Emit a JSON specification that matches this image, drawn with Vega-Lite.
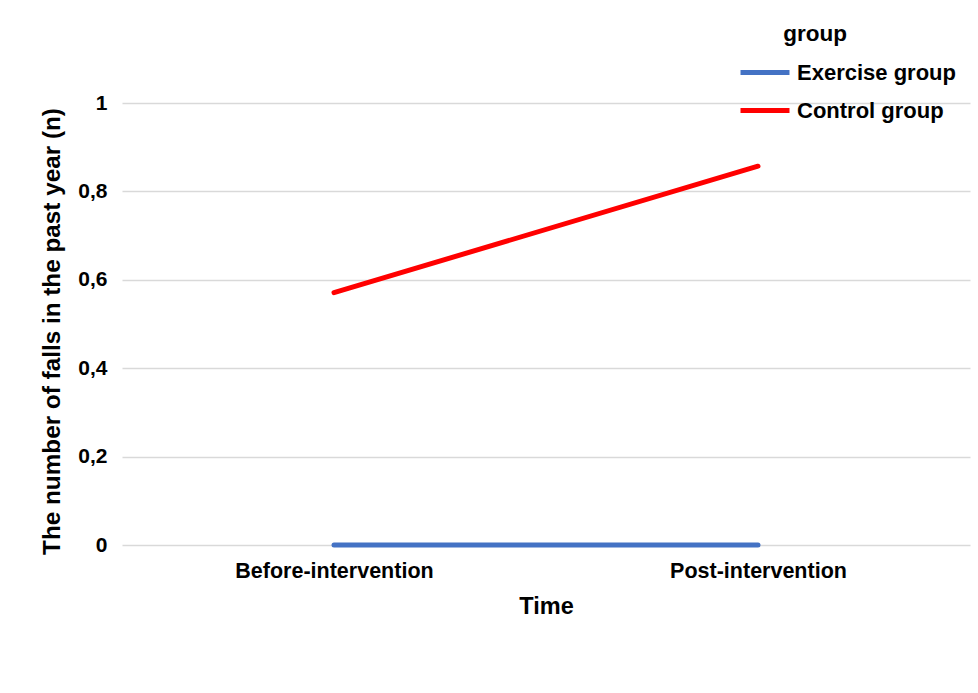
{
  "$schema": "https://vega.github.io/schema/vega-lite/v6.json",
  "width": 848,
  "height": 442,
  "autosize": {"type": "none"},
  "padding": {"left": 122, "top": 103, "right": 8, "bottom": 148},
  "background": "white",
  "config": {
    "font": "Liberation Sans",
    "view": {"stroke": null}
  },
  "data": {
    "values": [
      {"time": "Before-intervention", "group": "Exercise group", "falls": 0},
      {"time": "Post-intervention", "group": "Exercise group", "falls": 0},
      {"time": "Before-intervention", "group": "Control group", "falls": 0.571},
      {"time": "Post-intervention", "group": "Control group", "falls": 0.857}
    ]
  },
  "mark": {"type": "line", "strokeWidth": 5, "strokeCap": "round"},
  "encoding": {
    "x": {
      "field": "time",
      "type": "nominal",
      "sort": ["Before-intervention", "Post-intervention"],
      "scale": {"type": "point", "padding": 0.5},
      "axis": {
        "title": "Time",
        "titleFontSize": 23.5,
        "titleFontWeight": "bold",
        "titleColor": "black",
        "titlePadding": 13,
        "labelAngle": 0,
        "labelFontSize": 21.5,
        "labelFontWeight": "bold",
        "labelColor": "black",
        "labelPadding": 15,
        "labelLimit": 0,
        "domain": false,
        "ticks": false,
        "grid": false
      }
    },
    "y": {
      "field": "falls",
      "type": "quantitative",
      "scale": {"domain": [0, 1], "nice": false},
      "axis": {
        "title": "The number of falls in the past year (n)",
        "titleFontSize": 24.3,
        "titleFontWeight": "bold",
        "titleColor": "black",
        "titlePadding": 13,
        "titleY": 228,
        "values": [0, 0.2, 0.4, 0.6, 0.8, 1],
        "labelExpr": "replace(format(datum.value, '.1~f'), '.', ',')",
        "labelFontSize": 21,
        "labelFontWeight": "bold",
        "labelColor": "black",
        "labelPadding": 15,
        "domain": false,
        "ticks": false,
        "grid": true,
        "gridColor": "#d9d9d9",
        "gridWidth": 1.5
      }
    },
    "color": {
      "field": "group",
      "type": "nominal",
      "sort": ["Exercise group", "Control group"],
      "scale": {"domain": ["Exercise group", "Control group"], "range": ["#4472C4", "#FF0000"]},
      "legend": {
        "title": "group",
        "orient": "none",
        "legendX": 616,
        "legendY": -80,
        "titleFontSize": 22.5,
        "titleFontWeight": "bold",
        "titleColor": "black",
        "titleAnchor": "middle",
        "titleAlign": "right",
        "titlePadding": 0,
        "labelFontSize": 22,
        "labelFontWeight": "bold",
        "labelColor": "black",
        "labelOffset": 5,
        "symbolType": "stroke",
        "symbolSize": 2400,
        "symbolStrokeWidth": 5,
        "rowPadding": -11
      }
    }
  }
}
